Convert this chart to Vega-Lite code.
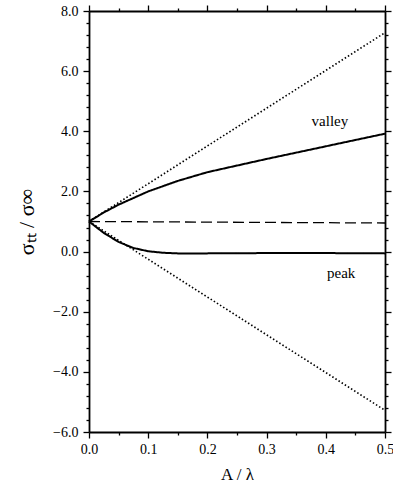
{
  "$schema": "https://vega.github.io/schema/vega-lite/v6.json",
  "width": 296,
  "height": 421,
  "autosize": "none",
  "padding": {"left": 89, "top": 11, "right": 8, "bottom": 52},
  "background": "white",
  "config": {
    "view": {"stroke": null},
    "axis": {
      "labelFont": "Times New Roman",
      "labelFontSize": 14,
      "labelColor": "black",
      "titleFont": "Times New Roman",
      "titleColor": "black",
      "titleFontWeight": "normal",
      "domainColor": "black",
      "domainWidth": 1.8,
      "ticks": true,
      "tickColor": "#000000",
      "tickWidth": 1.3,
      "grid": false,
      "labelFlush": false,
      "labelOverlap": false
    }
  },
  "datasets": {
    "lines": [
      {"s": "upper", "k": "dotted", "a": 0, "v": 1.0},
      {"s": "upper", "k": "dotted", "a": 0.5, "v": 7.28},
      {"s": "lower", "k": "dotted", "a": 0, "v": 1.0},
      {"s": "lower", "k": "dotted", "a": 0.5, "v": -5.28},
      {"s": "ref", "k": "dashed", "a": 0, "v": 1.0},
      {"s": "ref", "k": "dashed", "a": 0.5, "v": 0.95},
      {"s": "valley", "k": "solid", "a": 0, "v": 1.0},
      {"s": "valley", "k": "solid", "a": 0.025, "v": 1.3},
      {"s": "valley", "k": "solid", "a": 0.05, "v": 1.56},
      {"s": "valley", "k": "solid", "a": 0.075, "v": 1.78},
      {"s": "valley", "k": "solid", "a": 0.1, "v": 2.0},
      {"s": "valley", "k": "solid", "a": 0.15, "v": 2.35},
      {"s": "valley", "k": "solid", "a": 0.2, "v": 2.64},
      {"s": "valley", "k": "solid", "a": 0.25, "v": 2.86},
      {"s": "valley", "k": "solid", "a": 0.3, "v": 3.08},
      {"s": "valley", "k": "solid", "a": 0.35, "v": 3.29},
      {"s": "valley", "k": "solid", "a": 0.4, "v": 3.5},
      {"s": "valley", "k": "solid", "a": 0.45, "v": 3.71},
      {"s": "valley", "k": "solid", "a": 0.5, "v": 3.92},
      {"s": "peak", "k": "solid", "a": 0, "v": 1.0},
      {"s": "peak", "k": "solid", "a": 0.025, "v": 0.62},
      {"s": "peak", "k": "solid", "a": 0.05, "v": 0.32},
      {"s": "peak", "k": "solid", "a": 0.075, "v": 0.12},
      {"s": "peak", "k": "solid", "a": 0.1, "v": 0.01},
      {"s": "peak", "k": "solid", "a": 0.125, "v": -0.04},
      {"s": "peak", "k": "solid", "a": 0.15, "v": -0.06},
      {"s": "peak", "k": "solid", "a": 0.2, "v": -0.06},
      {"s": "peak", "k": "solid", "a": 0.3, "v": -0.05},
      {"s": "peak", "k": "solid", "a": 0.4, "v": -0.05},
      {"s": "peak", "k": "solid", "a": 0.5, "v": -0.06}
    ],
    "labels": [
      {"t": "valley", "a": 0.407, "v": 4.34},
      {"t": "peak", "a": 0.426, "v": -0.72}
    ]
  },
  "resolve": {"axis": {"x": "independent", "y": "independent"}},
  "layer": [
    {
      "data": {"name": "lines"},
      "mark": {"type": "line", "color": "black"},
      "encoding": {
        "x": {
          "field": "a", "type": "quantitative",
          "scale": {"domain": [0, 0.5], "nice": false, "zero": false},
          "axis": {
            "orient": "bottom",
            "values": [0, 0.1, 0.2, 0.3, 0.4, 0.5],
            "format": ".1f",
            "tickSize": 6,
            "labelPadding": 4,
            "title": "A / λ",
            "titleFontSize": 17,
            "titlePadding": 10
          }
        },
        "y": {
          "field": "v", "type": "quantitative",
          "scale": {"domain": [-6, 8], "nice": false, "zero": false},
          "axis": {
            "orient": "left",
            "values": [-6, -4, -2, 0, 2, 4, 6, 8],
            "format": ".1f",
            "tickSize": 6,
            "labelPadding": 5,
            "title": "σₜₜ / σ∞",
            "titleFontSize": 22,
            "titlePadding": 14
          }
        },
        "detail": {"field": "s"},
        "strokeDash": {
          "field": "k", "type": "nominal",
          "scale": {"domain": ["solid", "dotted", "dashed"], "range": [[1, 0], [1.5, 2.2], [11, 5]]},
          "legend": null
        },
        "strokeWidth": {
          "field": "k", "type": "nominal",
          "scale": {"domain": ["solid", "dotted", "dashed"], "range": [2, 1.3, 1.3]},
          "legend": null
        }
      }
    },
    {
      "data": {"name": "labels"},
      "mark": {"type": "text", "font": "Times New Roman", "fontSize": 15, "color": "black"},
      "encoding": {
        "x": {"field": "a", "type": "quantitative", "axis": null},
        "y": {"field": "v", "type": "quantitative", "axis": null},
        "text": {"field": "t"}
      }
    },
    {
      "data": {"name": "lines"},
      "mark": {"type": "point", "opacity": 0},
      "encoding": {
        "x": {
          "field": "a", "type": "quantitative",
          "axis": {
            "orient": "top", "ticks": true,
            "values": [0, 0.1, 0.2, 0.3, 0.4, 0.5],
            "labels": false, "title": null, "tickSize": 6
          }
        },
        "y": {
          "field": "v", "type": "quantitative",
          "axis": {
            "orient": "right", "ticks": true,
            "values": [-6, -4, -2, 0, 2, 4, 6, 8],
            "labels": false, "title": null, "tickSize": 6
          }
        }
      }
    },
    {
      "data": {"name": "lines"},
      "mark": {"type": "point", "opacity": 0},
      "encoding": {
        "x": {
          "field": "a", "type": "quantitative",
          "axis": {
            "orient": "bottom", "ticks": true, "domain": false,
            "values": [0.05, 0.15, 0.25, 0.35, 0.45],
            "labels": false, "title": null, "tickSize": 3
          }
        },
        "y": {
          "field": "v", "type": "quantitative",
          "axis": {
            "orient": "left", "ticks": true, "domain": false,
            "values": [-5.6, -5.2, -4.8, -4.4, -3.6, -3.2, -2.8, -2.4, -1.6, -1.2, -0.8, -0.4, 0.4, 0.8, 1.2, 1.6, 2.4, 2.8, 3.2, 3.6, 4.4, 4.8, 5.2, 5.6, 6.4, 6.8, 7.2, 7.6],
            "labels": false, "title": null, "tickSize": 3
          }
        }
      }
    },
    {
      "data": {"name": "lines"},
      "mark": {"type": "point", "opacity": 0},
      "encoding": {
        "x": {
          "field": "a", "type": "quantitative",
          "axis": {
            "orient": "top", "ticks": true, "domain": false,
            "values": [0.05, 0.15, 0.25, 0.35, 0.45],
            "labels": false, "title": null, "tickSize": 3
          }
        },
        "y": {
          "field": "v", "type": "quantitative",
          "axis": {
            "orient": "right", "ticks": true, "domain": false,
            "values": [-5.6, -5.2, -4.8, -4.4, -3.6, -3.2, -2.8, -2.4, -1.6, -1.2, -0.8, -0.4, 0.4, 0.8, 1.2, 1.6, 2.4, 2.8, 3.2, 3.6, 4.4, 4.8, 5.2, 5.6, 6.4, 6.8, 7.2, 7.6],
            "labels": false, "title": null, "tickSize": 3
          }
        }
      }
    }
  ]
}
